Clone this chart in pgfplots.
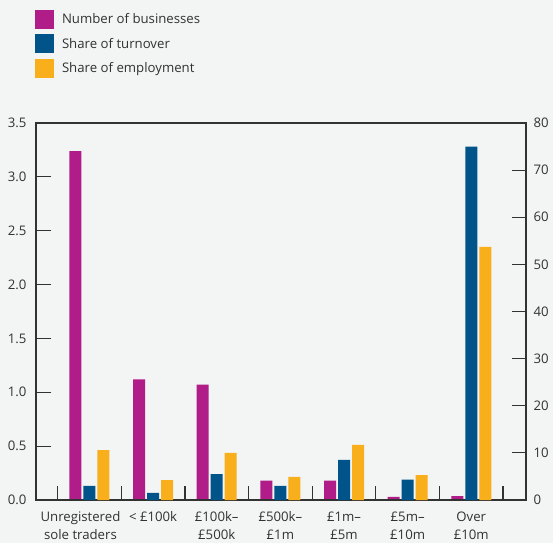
\documentclass[border=0pt]{standalone}
\usepackage{fontspec}
\setmainfont{Open Sans}
\usepackage{pgfplots}
\pgfplotsset{compat=1.18}
\definecolor{bg}{RGB}{243,244,244}
\definecolor{mag}{RGB}{176,28,136}
\definecolor{blu}{RGB}{0,84,138}
\definecolor{org}{RGB}{249,174,27}
\definecolor{txt}{RGB}{50,50,50}
\definecolor{axc}{RGB}{50,50,50}
\newcommand{\fs}{\fontsize{13.2}{18}\selectfont}
\pgfplotsset{
 common/.style={
  at={(0pt,0pt)}, anchor=south west,
  width=490pt, height=377pt, scale only axis,
  xmin=-0.84, xmax=6.86, ymin=0,
  axis line style={axc, line width=1.2pt},
  every tick/.style={axc, line width=1.2pt},
  major tick length=14.5pt,
  tick label style={font=\fs, text=txt},
  /pgf/number format/assume math mode=true,
 }
}
\begin{document}
\begin{tikzpicture}
\path[use as bounding box, fill=bg] (-36pt,-43pt) rectangle (517pt,500pt);
\begin{axis}[common, ymax=3.5, ytick={0,0.5,...,3.5}, ytick pos=left, xtick pos=bottom,
  yticklabel style={/pgf/number format/fixed, /pgf/number format/fixed zerofill, /pgf/number format/precision=1, xshift=-6pt},
  xtick={-0.5,0.5,...,6.5}, xticklabels={},
  extra x ticks={0,1,2,3,4,5,6},
  extra x tick labels={{Unregistered\hspace*{18pt}\\sole traders\hspace*{18pt}},{< £100k},{£100k–\\£500k},{£500k–\\£1m},{£1m–\\£5m},{£5m–\\£10m},{Over\\£10m}},
  extra x tick style={major tick length=0pt, xticklabel style={align=center, yshift=-8pt}},
  legend style={at={(0,1)}, anchor=north west, xshift=-1pt, yshift=113pt, draw=none, fill=none,
    inner sep=0pt, outer sep=0pt, row sep=5.5pt, font=\fs, text=txt,
    /tikz/every odd column/.append style={column sep=6pt}},
  legend cell align=left,
  legend image code/.code={\fill[#1] (0pt,-9.5pt) rectangle (19pt,9.5pt);},
  tick align=inside, xtick align=inside, ytick align=inside,
]
\addplot[ybar, bar width=12pt, fill=mag, draw=none, bar shift=-14pt] coordinates {(0,3.24) (1,1.12) (2,1.07) (3,0.18) (4,0.18) (5,0.03) (6,0.035)};
\addlegendentry{Number of businesses}
\addlegendimage{fill=blu, draw=none}
\addlegendentry{Share of turnover}
\addlegendimage{fill=org, draw=none}
\addlegendentry{Share of employment}
\node[anchor=base west, inner sep=0pt, font=\fs, text=txt] at (rel axis cs:0,1) [yshift=18pt] {Number of businesses (millions)};
\node[anchor=base east, inner sep=0pt, font=\fs, text=txt] at (rel axis cs:1,1) [yshift=18pt] {Per cent of turnover and employment};
\end{axis}
\begin{axis}[common, ymax=80, ytick={0,10,...,80}, ytick pos=right, xtick=\empty,
  yticklabel style={xshift=4pt}, tick align=inside, ytick align=inside]
\addplot[ybar, bar width=12pt, fill=blu, draw=none, bar shift=0pt] coordinates {(0,3.0) (1,1.5) (2,5.5) (3,3.0) (4,8.5) (5,4.3) (6,75)};
\addplot[ybar, bar width=12pt, fill=org, draw=none, bar shift=14pt] coordinates {(0,10.6) (1,4.2) (2,10.0) (3,4.9) (4,11.7) (5,5.3) (6,53.7)};
\end{axis}
\end{tikzpicture}
\end{document}
